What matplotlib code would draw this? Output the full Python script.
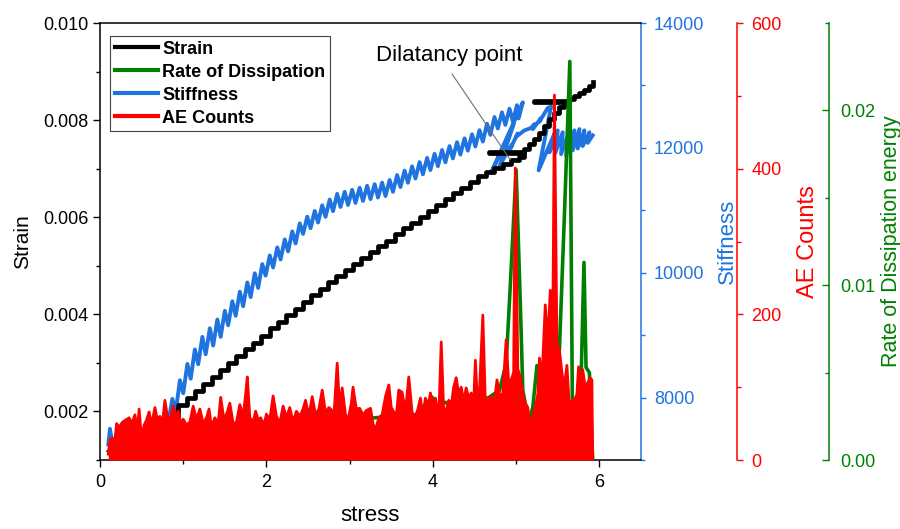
import matplotlib
matplotlib.use("Agg")
import matplotlib.pyplot as plt
from matplotlib.lines import Line2D
from matplotlib.ticker import MultipleLocator, FormatStrFormatter

plt.rcParams['font.family'] = ['Liberation Sans', 'DejaVu Sans']

# ---------------- data ----------------
# Strain vs stress (loading path, including the two unloading back-steps)
strain_stress = [0.12, 0.50, 0.80,
                 0.94, 1.04, 1.14, 1.24, 1.34, 1.44, 1.54, 1.64, 1.74, 1.84,
                 1.94, 2.04, 2.14, 2.24, 2.34, 2.44, 2.54, 2.64, 2.74, 2.84,
                 2.94, 3.04, 3.14, 3.24, 3.34, 3.44, 3.54, 3.64, 3.74, 3.84,
                 3.94, 4.04, 4.14, 4.24, 4.34, 4.44, 4.54, 4.64, 4.74, 4.84,
                 4.94, 5.04, 5.10, 4.67, 5.10, 5.16, 5.22, 5.28, 5.34, 5.40,
                 5.46, 5.52, 5.58, 5.63, 5.22, 5.63, 5.69, 5.75, 5.81, 5.87,
                 5.92]
strain = [0.00125, 0.00140, 0.00160,
          0.00214, 0.00228, 0.00243, 0.00257, 0.00271, 0.00285, 0.00300, 0.00314, 0.00328, 0.00342,
          0.00356, 0.00371, 0.00385, 0.00398, 0.00412, 0.00426, 0.00440, 0.00453, 0.00467, 0.00480,
          0.00492, 0.00504, 0.00516, 0.00528, 0.00540, 0.00552, 0.00565, 0.00577, 0.00589, 0.00601,
          0.00613, 0.00625, 0.00637, 0.00649, 0.00661, 0.00673, 0.00685, 0.00693, 0.00701, 0.00709,
          0.00717, 0.00725, 0.00732, 0.00734, 0.00740, 0.00750, 0.00762, 0.00774, 0.00788, 0.00802,
          0.00815, 0.00828, 0.00834, 0.00838, 0.00840, 0.00843, 0.00849, 0.00856, 0.00863, 0.00870,
          0.00878]

# Stiffness vs stress (cyclic sawtooth path)
stiff_stress = [0.10, 0.12, 0.15, 0.80, 0.82,
                0.87, 0.91, 0.96, 1.00, 1.05, 1.09, 1.14, 1.18, 1.23, 1.27,
                1.32, 1.36, 1.41, 1.45, 1.50, 1.54, 1.59, 1.63, 1.68, 1.72,
                1.77, 1.81, 1.86, 1.90, 1.95, 1.99, 2.04, 2.08, 2.13, 2.17,
                2.22, 2.26, 2.31, 2.35, 2.40, 2.44, 2.49, 2.53, 2.58, 2.62,
                2.67, 2.71, 2.76, 2.80, 2.85, 2.89, 2.94, 2.98, 3.03, 3.07,
                3.12, 3.16, 3.21, 3.25, 3.30, 3.34, 3.39, 3.43, 3.48, 3.52,
                3.57, 3.61, 3.66, 3.70, 3.75, 3.79, 3.84, 3.88, 3.93, 3.97,
                4.02, 4.06, 4.11, 4.15, 4.20, 4.24, 4.29, 4.33, 4.38, 4.42,
                4.47, 4.51, 4.56, 4.60, 4.65, 4.69, 4.74, 4.78, 4.83, 4.87,
                4.92, 4.96, 5.01, 5.03, 5.08,
                4.70, 4.97, 4.80, 4.90, 4.95, 4.93, 5.02, 5.00, 5.10, 5.18,
                5.22, 5.20, 5.30, 5.28, 5.38, 5.42, 5.27, 5.47, 5.40, 5.50,
                5.47, 5.56, 5.54, 5.63, 5.60, 5.70, 5.68, 5.76, 5.74, 5.82,
                5.80, 5.88, 5.86, 5.92]
stiffness = [7250, 7500, 7250, 7300, 7600,
             7980, 7772, 8278, 8070, 8539, 8302, 8770, 8534, 8972, 8694,
             9111, 8833, 9251, 8973, 9390, 9158, 9543, 9311, 9696, 9463,
             9844, 9610, 9991, 9757, 10138, 9954, 10277, 10084, 10405, 10212,
             10534, 10341, 10662, 10469, 10790, 10622, 10898, 10713, 10989, 10805,
             11080, 10896, 11172, 10987, 11263, 11053, 11296, 11085, 11328, 11118,
             11361, 11150, 11393, 11179, 11418, 11204, 11443, 11229, 11486, 11296,
             11564, 11373, 11635, 11441, 11704, 11509, 11772, 11577, 11840, 11645,
             11904, 11707, 11966, 11769, 12028, 11831, 12090, 11893, 12152, 11956,
             12218, 12022, 12283, 12101, 12386, 12209, 12494, 12311, 12569, 12369,
             12627, 12427, 12684, 12472, 12729,
             11600, 12380, 11700, 11960, 12050, 11990, 12230, 12180, 12280, 12320,
             12380, 12300, 12480, 12420, 12640, 12660, 11640, 12260, 11930, 12280,
             11920, 12250, 11900, 12240, 11880, 12280, 11960, 12300, 11990, 12280,
             12030, 12250, 12080, 12200]

# Acoustic emission counts vs stress
ae_stress = [0.10, 0.12, 0.15, 0.17, 0.20, 0.23, 0.27, 0.31, 0.35, 0.38,
             0.42, 0.45, 0.47, 0.50, 0.53, 0.56, 0.59, 0.62, 0.66, 0.69,
             0.72, 0.75, 0.78, 0.81, 0.84, 0.88, 0.91, 0.94, 0.97, 1.00,
             1.04, 1.08, 1.12, 1.16, 1.20, 1.24, 1.28, 1.31, 1.34, 1.38,
             1.42, 1.45, 1.49, 1.53, 1.56, 1.60, 1.64, 1.68, 1.72, 1.75,
             1.77, 1.80, 1.84, 1.87, 1.90, 1.93, 1.97, 2.00, 2.04, 2.08,
             2.12, 2.16, 2.20, 2.24, 2.28, 2.32, 2.36, 2.40, 2.44, 2.47,
             2.51, 2.55, 2.59, 2.63, 2.67, 2.71, 2.75, 2.78, 2.81, 2.85,
             2.88, 2.91, 2.95, 2.98, 3.02, 3.04, 3.08, 3.12, 3.16, 3.20,
             3.25, 3.28, 3.31, 3.35, 3.39, 3.43, 3.47, 3.50, 3.53, 3.56,
             3.59, 3.63, 3.67, 3.71, 3.75, 3.79, 3.82, 3.85, 3.88, 3.91,
             3.94, 3.97, 4.00, 4.03, 4.07, 4.10, 4.13, 4.16, 4.19, 4.22,
             4.25, 4.28, 4.31, 4.34, 4.37, 4.40, 4.43, 4.46, 4.49, 4.51,
             4.54, 4.56, 4.60, 4.63, 4.67, 4.71, 4.74, 4.77, 4.81, 4.84,
             4.88, 4.91, 4.94, 4.97, 4.99, 5.02, 5.05, 5.08, 5.11, 5.14,
             5.17, 5.20, 5.23, 5.26, 5.28, 5.31, 5.35, 5.38, 5.41, 5.44,
             5.46, 5.49, 5.52, 5.55, 5.58, 5.61, 5.64, 5.67, 5.70, 5.73,
             5.75, 5.78, 5.80, 5.83, 5.86, 5.89, 5.91, 5.92]
ae_counts = [8, 28, 30, 18, 50, 45, 52, 55, 58, 50,
             62, 40, 70, 28, 48, 55, 66, 48, 72, 55,
             60, 50, 82, 60, 52, 74, 60, 67, 50, 56,
             48, 52, 74, 55, 70, 50, 58, 70, 45, 58,
             50, 86, 55, 66, 78, 50, 52, 76, 60, 90,
             114, 58, 52, 67, 55, 58, 48, 63, 55, 88,
             60, 50, 74, 58, 72, 52, 67, 60, 70, 82,
             60, 87, 62, 70, 96, 65, 72, 69, 60, 133,
             70, 99, 62, 55, 78, 100, 70, 71, 62, 68,
             71, 50, 41, 58, 62, 87, 103, 72, 66, 60,
             96, 93, 66, 114, 65, 59, 70, 85, 60, 85,
             70, 92, 75, 85, 58, 162, 66, 69, 82, 75,
             100, 113, 90, 100, 80, 99, 85, 92, 78, 137,
             69, 96, 199, 78, 85, 87, 80, 110, 85, 92,
             165, 106, 110, 120, 401, 125, 114, 90, 78, 72,
             45, 60, 73, 90, 140, 110, 213, 160, 233, 170,
             501, 160, 151, 120, 100, 130, 73, 82, 82, 90,
             128, 105, 124, 100, 106, 113, 110, 0]

# Rate of dissipation energy vs stress
diss_stress = [0.10, 0.30, 0.60, 1.00, 1.50, 2.00, 2.50, 3.00, 3.27, 3.50,
               3.80, 3.99, 4.05, 4.15, 4.30, 4.45, 4.55, 4.65, 4.80, 4.88,
               4.93, 5.00, 5.05, 5.08, 5.15, 5.20, 5.25, 5.29, 5.33, 5.40,
               5.47, 5.52, 5.58, 5.645, 5.675, 5.72, 5.78, 5.815, 5.84, 5.88,
               5.92]
dissipation = [0.0005, 0.0015, 0.0018, 0.0018, 0.0020, 0.0020, 0.0022, 0.0023, 0.0024, 0.0025,
               0.0026, 0.0036, 0.0030, 0.0033, 0.0030, 0.0032, 0.0040, 0.0035, 0.0040, 0.0055,
               0.0100, 0.0166, 0.0090, 0.0040, 0.0022, 0.0030, 0.0054, 0.0054, 0.0040, 0.0045,
               0.0050, 0.0063, 0.0140, 0.0228, 0.0035, 0.0034, 0.0045, 0.0113, 0.0053, 0.0050,
               0.0]

series_names = ['Strain', 'Rate of Dissipation', 'Stiffness', 'AE Counts']

# ---------------- styling ----------------
BLACK = '#000000'
BLUE = '#1f74e0'
RED = '#ff0000'
GREEN = '#008000'

fig = plt.figure(figsize=(9, 5.29), dpi=100)
ax = fig.add_axes([0.1111, 0.1304, 0.6011, 0.8261])
ax_st = ax.twinx()
ax_ae = ax.twinx()
ax_ds = ax.twinx()

# drawing order: stiffness, strain, dissipation, AE counts
ax_st.set_zorder(1)
ax.set_zorder(2)
ax_ds.set_zorder(3)
ax_ae.set_zorder(4)
for a in (ax, ax_st, ax_ae, ax_ds):
    a.patch.set_visible(False)

ax_st.plot(stiff_stress, stiffness, color=BLUE, lw=2.8, solid_joinstyle='round')
ax.plot(strain_stress, strain, color=BLACK, lw=3.4, drawstyle='steps-post')
ax_ds.plot(diss_stress, dissipation, color=GREEN, lw=2.6)
ax_ae.fill_between(ae_stress, 0, ae_counts, color=RED, lw=0)
ax_ae.plot(ae_stress, ae_counts, color=RED, lw=2.0)

# ---- axis limits ----
ax.set_xlim(0, 6.5)
ax.set_ylim(0.001, 0.010)
ax_st.set_ylim(7000, 14000)
ax_ae.set_ylim(0, 600)
ax_ds.set_ylim(0, 0.025)

# ---- spines ----
for a in (ax_st, ax_ae, ax_ds):
    for s in ('top', 'bottom', 'left'):
        a.spines[s].set_visible(False)
ax.spines['right'].set_visible(False)
for s in ('left', 'bottom', 'top'):
    ax.spines[s].set_linewidth(1.1)
ax_st.spines['right'].set_color(BLUE)
ax_st.spines['right'].set_linewidth(1.1)
ax_ae.spines['right'].set_position(('axes', 1.177))
ax_ae.spines['right'].set_color(RED)
ax_ae.spines['right'].set_linewidth(1.1)
ax_ds.spines['right'].set_position(('axes', 1.347))
ax_ds.spines['right'].set_color(GREEN)
ax_ds.spines['right'].set_linewidth(1.1)

# ---- ticks ----
ax.xaxis.set_major_locator(MultipleLocator(2))
ax.xaxis.set_minor_locator(MultipleLocator(1))
ax.yaxis.set_major_locator(MultipleLocator(0.002))
ax.yaxis.set_minor_locator(MultipleLocator(0.001))
ax.yaxis.set_major_formatter(FormatStrFormatter('%.3f'))
ax.tick_params(which='major', direction='out', length=5, width=1.0, labelsize=13, color=BLACK)
ax.tick_params(which='minor', direction='out', length=2.6, width=1.0)
ax.tick_params(axis='x', pad=5)

ax_st.yaxis.set_major_locator(MultipleLocator(2000))
ax_st.yaxis.set_minor_locator(MultipleLocator(1000))
ax_st.yaxis.set_major_formatter(FormatStrFormatter('%d'))
ax_st.tick_params(axis='y', which='major', direction='out', length=3.3, width=1.0,
                  colors=BLUE, labelsize=13, pad=6)
ax_st.tick_params(axis='y', which='minor', direction='out', length=2.6, width=1.0, colors=BLUE)

ax_ae.yaxis.set_major_locator(MultipleLocator(200))
ax_ae.yaxis.set_minor_locator(MultipleLocator(100))
ax_ae.yaxis.set_major_formatter(FormatStrFormatter('%d'))
ax_ae.tick_params(axis='y', which='major', direction='out', length=4.4, width=1.0,
                  colors=RED, labelsize=13, pad=6)
ax_ae.tick_params(axis='y', which='minor', direction='out', length=3.2, width=1.0, colors=RED)

ax_ds.yaxis.set_major_locator(MultipleLocator(0.01))
ax_ds.yaxis.set_minor_locator(MultipleLocator(0.005))
ax_ds.yaxis.set_major_formatter(FormatStrFormatter('%.2f'))
ax_ds.tick_params(axis='y', which='major', direction='in', length=5.4, width=1.0,
                  colors=GREEN, labelsize=13, pad=8)
ax_ds.tick_params(axis='y', which='minor', direction='in', length=3.0, width=1.0, colors=GREEN)

# ---- axis labels ----
ax.set_xlabel('stress', fontsize=16, labelpad=10)
ax.set_ylabel('Strain', fontsize=15, labelpad=8)
ax_st.set_ylabel('Stiffness', fontsize=16, color=BLUE, labelpad=9)
ax_ae.set_ylabel('AE Counts', fontsize=17, color=RED, labelpad=11)
ax_ds.set_ylabel('Rate of Dissipation energy', fontsize=15.5, color=GREEN, labelpad=4)

# ---- annotation ----
ax.annotate('', xy=(4.93, 0.00718), xytext=(4.23, 0.00895),
            arrowprops=dict(arrowstyle='-', color='#707070', lw=0.8,
                            shrinkA=0, shrinkB=0))
ax.text(4.196, 0.00934, 'Dilatancy point', fontsize=16, ha='center', va='center')

# ---- legend ----
series_colors = [BLACK, GREEN, BLUE, RED]
handles = [Line2D([], [], color=c, lw=3.0) for c in series_colors]
leg = ax_ae.legend(handles, series_names, loc='upper left',
                   bbox_to_anchor=(0.0185, 0.970), borderaxespad=0,
                   prop={'size': 13, 'weight': 'bold'}, fancybox=False,
                   framealpha=1, edgecolor='#444444', borderpad=0.25,
                   labelspacing=0.33, handlelength=2.4, handletextpad=0.25)
leg.get_frame().set_linewidth(0.8)

fig.savefig('out.png', dpi=100, facecolor='white')
